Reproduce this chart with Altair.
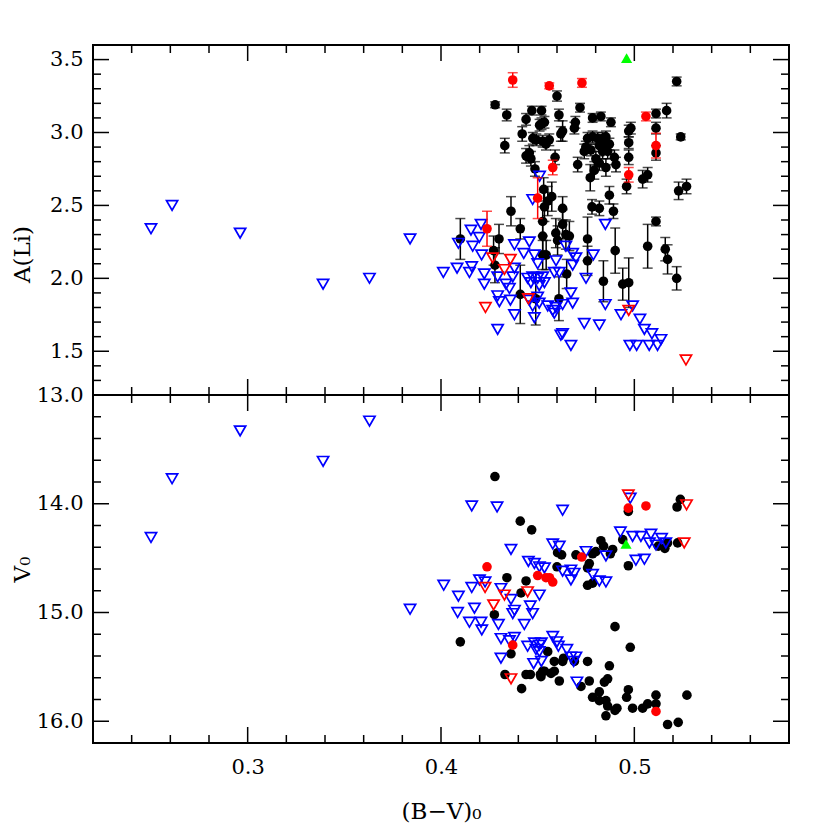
import altair as alt
import pandas as pd

# ---------------- data: top panel, A(Li) vs (B-V)0 ----------------
top_black_bv = [0.428, 0.460, 0.434, 0.444, 0.447, 0.452, 0.461, 0.452, 0.4535, 0.451,
                0.442, 0.4475, 0.4493, 0.4526, 0.456, 0.4543, 0.433, 0.462, 0.444, 0.4465,
                0.4457, 0.459, 0.4486, 0.4531, 0.4552, 0.4573, 0.4535, 0.4362, 0.410, 0.430,
                0.4272, 0.441, 0.4526, 0.4526, 0.4544, 0.4526, 0.4594, 0.4603, 0.4279, 0.441,
                0.449, 0.461, 0.5219, 0.4719, 0.4629, 0.4695, 0.469, 0.4784, 0.4827, 0.4879,
                0.4971, 0.4982, 0.4971, 0.4971, 0.5112, 0.5167, 0.5112, 0.5112, 0.524, 0.4758,
                0.4784, 0.481, 0.4836, 0.4853, 0.4749, 0.4775, 0.4819, 0.4845, 0.4871, 0.4836,
                0.4862, 0.4897, 0.4801, 0.4741, 0.4707, 0.4819, 0.4793, 0.4853, 0.4905, 0.4772,
                0.496, 0.5043, 0.5069, 0.5229, 0.527, 0.4871, 0.4781, 0.4819, 0.4892, 0.4629,
                0.4629, 0.4646, 0.4664, 0.4758, 0.4758, 0.4901, 0.484, 0.494, 0.4971, 0.5069,
                0.5112, 0.516, 0.5172, 0.5219, 0.465]
top_black_ali = [3.19, 3.25, 3.12, 3.09, 3.15, 3.15, 3.12, 3.06, 3.07, 3.05,
                 2.99, 2.96, 2.95, 2.94, 2.95, 2.92, 2.91, 2.99, 2.84, 2.82,
                 2.86, 2.83, 2.75, 2.61, 2.53, 2.56, 2.49, 2.46, 2.27, 2.27,
                 2.19, 2.34, 2.39, 2.29, 2.16, 2.16, 2.31, 2.26, 2.09, 1.89,
                 1.86, 1.86, 3.35, 3.17, 3.01, 3.07, 3.03, 3.10, 3.11, 3.07,
                 3.01, 3.03, 2.93, 2.83, 3.13, 3.15, 3.03, 2.86, 2.97, 2.96,
                 2.97, 2.96, 2.96, 2.97, 2.90, 2.88, 2.91, 2.91, 2.92, 2.87,
                 2.87, 2.83, 2.82, 2.87, 2.78, 2.79, 2.74, 2.76, 2.78, 2.69,
                 2.63, 2.68, 2.71, 2.60, 2.63, 2.57, 2.49, 2.48, 2.46, 2.48,
                 2.37, 2.30, 2.29, 2.27, 2.12, 2.19, 1.98, 1.96, 1.97, 2.22,
                 2.39, 2.20, 2.13, 2.00, 2.03]
top_black_err = [0.02, 0.035, 0.04, 0.04, 0.03, 0.03, 0.04, 0.04, 0.04, 0.04,
                 0.05, 0.04, 0.04, 0.04, 0.04, 0.04, 0.05, 0.05, 0.05, 0.05,
                 0.05, 0.05, 0.05, 0.08, 0.10, 0.10, 0.10, 0.10, 0.14, 0.10,
                 0.10, 0.07, 0.10, 0.10, 0.10, 0.10, 0.10, 0.10, 0.12, 0.20,
                 0.18, 0.15, 0.03, 0.03, 0.07, 0.04, 0.04, 0.03, 0.03, 0.03,
                 0.04, 0.04, 0.04, 0.05, 0.03, 0.05, 0.04, 0.05, 0.02, 0.04,
                 0.04, 0.04, 0.04, 0.04, 0.04, 0.04, 0.04, 0.04, 0.04, 0.05,
                 0.05, 0.05, 0.05, 0.05, 0.05, 0.05, 0.06, 0.06, 0.05, 0.09,
                 0.05, 0.06, 0.05, 0.06, 0.05, 0.06, 0.05, 0.05, 0.05, 0.08,
                 0.10, 0.10, 0.10, 0.15, 0.10, 0.155, 0.14, 0.11, 0.17, 0.15,
                 0.03, 0.08, 0.10, 0.08, 0.10]

top_red_bv = [0.4371, 0.456, 0.4729, 0.506, 0.5112, 0.4578, 0.4971, 0.450, 0.4238]
top_red_ali = [3.36, 3.32, 3.34, 3.11, 2.91, 2.76, 2.71, 2.55, 2.34]
top_red_err = [0.05, 0.02, 0.03, 0.03, 0.085, 0.05, 0.05, 0.14, 0.12]

top_blue_bv = [0.2609, 0.25, 0.2961, 0.339, 0.363, 0.384, 0.451, 0.4474, 0.4207, 0.4155,
               0.4198, 0.409, 0.4164, 0.421, 0.438, 0.4457, 0.4428, 0.4483, 0.45, 0.4012,
               0.4083, 0.4159, 0.4147, 0.4224, 0.4224, 0.4293, 0.4371, 0.438, 0.4336, 0.4354,
               0.4448, 0.4474, 0.45, 0.4526, 0.4465, 0.4508, 0.4535, 0.4586, 0.4612, 0.4595,
               0.4293, 0.4302, 0.4359, 0.4457, 0.45, 0.4474, 0.4508, 0.4552, 0.4578, 0.4586,
               0.438, 0.4483, 0.4293, 0.462, 0.485, 0.4646, 0.4681, 0.4698, 0.4681, 0.4788,
               0.475, 0.4672, 0.4681, 0.4629, 0.4594, 0.485, 0.4931, 0.4991, 0.4741, 0.4819,
               0.4629, 0.4672, 0.5029, 0.5052, 0.5091, 0.5138, 0.4977, 0.5012, 0.5077, 0.512]
top_blue_ali = [2.50, 2.34, 2.31, 1.96, 2.00, 2.27, 2.70, 2.54, 2.37, 2.33,
                2.28, 2.24, 2.22, 2.16, 2.23, 2.25, 2.17, 2.16, 2.10, 2.04,
                2.07, 2.08, 2.04, 2.03, 1.96, 2.01, 2.01, 2.07, 1.96, 1.93,
                2.00, 2.01, 2.00, 2.01, 1.97, 1.95, 1.97, 2.04, 2.04, 2.12,
                1.88, 1.84, 1.85, 1.85, 1.87, 1.81, 1.83, 1.81, 1.78, 1.76,
                1.75, 1.73, 1.65, 1.61, 2.37, 2.22, 2.17, 2.14, 2.09, 2.16,
                2.00, 1.90, 1.83, 1.82, 1.80, 1.82, 1.75, 1.81, 1.69, 1.68,
                1.62, 1.54, 1.72, 1.65, 1.62, 1.58, 1.54, 1.54, 1.54, 1.54]

top_redtri_bv = [0.4267, 0.4359, 0.4328, 0.4452, 0.423, 0.4971, 0.5267]
top_redtri_ali = [2.14, 2.13, 2.06, 1.86, 1.80, 1.78, 1.44]

top_green_bv = [0.496]
top_green_ali = [3.51]

# ---------------- data: bottom panel, V0 vs (B-V)0 ----------------
bot_black_bv = [0.4279, 0.441, 0.4469, 0.4341, 0.444, 0.410, 0.4276, 0.4362, 0.4331, 0.4417,
                0.444, 0.4462, 0.4514, 0.4535, 0.4414, 0.4969, 0.5238, 0.5221, 0.494, 0.5124,
                0.5158, 0.5172, 0.5224, 0.4827, 0.4841, 0.4801, 0.4784, 0.4888, 0.4876, 0.4698,
                0.4603, 0.4624, 0.4767, 0.4758, 0.4969, 0.460, 0.4758, 0.4784, 0.490, 0.4979,
                0.4552, 0.4586, 0.4629, 0.4634, 0.469, 0.4758, 0.4871, 0.4526, 0.4569, 0.4586,
                0.4612, 0.4517, 0.4724, 0.4767, 0.4819, 0.4784, 0.4819, 0.4853, 0.4862, 0.4845,
                0.4862, 0.491, 0.490, 0.4853, 0.4969, 0.496, 0.4991, 0.5043, 0.5069, 0.5112,
                0.5112, 0.5272, 0.5172, 0.5227]
bot_black_v = [13.75, 14.16, 14.24, 14.68, 14.71, 15.27, 15.02, 15.38, 15.57, 15.70,
               15.57, 15.57, 15.57, 15.54, 14.82, 14.07, 13.96, 14.03, 14.33, 14.39,
               14.41, 14.36, 14.36, 14.34, 14.39, 14.44, 14.46, 14.42, 14.46, 14.47,
               14.45, 14.47, 14.55, 14.59, 14.57, 14.58, 14.75, 14.73, 15.13, 15.32,
               15.36, 15.45, 15.45, 15.42, 15.45, 15.45, 15.49, 15.54, 15.56, 15.54,
               15.63, 15.59, 15.68, 15.63, 15.73, 15.78, 15.81, 15.81, 15.61, 15.64,
               15.86, 15.88, 15.90, 15.95, 15.71, 15.78, 15.88, 15.88, 15.84, 15.76,
               15.84, 15.76, 16.03, 16.01]

bot_blue_bv = [0.2961, 0.363, 0.339, 0.2609, 0.25, 0.384, 0.4159, 0.429, 0.4362, 0.4452,
               0.4483, 0.4509, 0.4535, 0.4014, 0.4159, 0.4199, 0.4228, 0.431, 0.409, 0.4086,
               0.4173, 0.4147, 0.4207, 0.4211, 0.4362, 0.438, 0.4371, 0.4297, 0.4431, 0.4462,
               0.4474, 0.4509, 0.431, 0.4354, 0.438, 0.431, 0.4448, 0.4483, 0.4509, 0.4491,
               0.4479, 0.4629, 0.4979, 0.4928, 0.4991, 0.5034, 0.5086, 0.5141, 0.5078, 0.5112,
               0.5163, 0.475, 0.4853, 0.4578, 0.4612, 0.5008, 0.5052, 0.4629, 0.4672, 0.4689,
               0.4672, 0.4784, 0.4819, 0.4853, 0.4578, 0.460, 0.4607, 0.4651, 0.4672, 0.4698,
               0.4686, 0.4519, 0.4509, 0.4519, 0.4703]
bot_blue_v = [13.33, 13.24, 13.61, 13.77, 14.31, 14.97, 14.02, 14.03, 14.42, 14.53,
              14.55, 14.58, 14.59, 14.75, 14.77, 14.70, 14.72, 14.78, 14.85, 15.00,
              14.96, 15.09, 15.09, 15.16, 14.88, 14.98, 15.01, 15.11, 15.11, 14.94,
              15.01, 14.84, 15.24, 15.26, 15.23, 15.42, 15.31, 15.28, 15.30, 15.34,
              15.47, 14.06, 13.95, 14.26, 14.30, 14.30, 14.28, 14.32, 14.36, 14.38,
              14.36, 14.44, 14.48, 14.37, 14.39, 14.52, 14.51, 14.62, 14.61, 14.64,
              14.70, 14.65, 14.71, 14.72, 15.22, 15.27, 15.31, 15.34, 15.41, 15.41,
              15.45, 15.28, 15.36, 15.45, 15.64]

bot_red_bv = [0.4238, 0.450, 0.4543, 0.4371, 0.4969, 0.506, 0.4728, 0.4561, 0.4578, 0.5112]
bot_red_v = [14.58, 14.66, 14.68, 15.30, 14.04, 14.02, 14.49, 14.68, 14.72, 15.91]

bot_redtri_bv = [0.4228, 0.4272, 0.4328, 0.4448, 0.4362, 0.4969, 0.527, 0.5258]
bot_redtri_v = [14.77, 14.93, 14.84, 14.81, 15.61, 13.92, 14.01, 14.36]

bot_green_bv = [0.4957]
bot_green_v = [14.37]

# ---------------- tick positions ----------------
x_major = [0.3, 0.4, 0.5]
x_minor = [0.24, 0.26, 0.28, 0.32, 0.34, 0.36, 0.38, 0.42, 0.44, 0.46, 0.48, 0.52, 0.54, 0.56]
top_y_major = [1.5, 2.0, 2.5, 3.0, 3.5]
top_y_minor = [1.3, 1.4, 1.6, 1.7, 1.8, 1.9, 2.1, 2.2, 2.3, 2.4, 2.6, 2.7, 2.8, 2.9,
               3.1, 3.2, 3.3, 3.4]
bot_y_major = [14.0, 15.0, 16.0]
bot_y_minor = [13.2, 13.4, 13.6, 13.8, 14.2, 14.4, 14.6, 14.8, 15.2, 15.4, 15.6, 15.8]

# ---------------- styling ----------------
W = 696
H_TOP = 350
H_BOT = 348
FONT = "DejaVu Serif"
BLACK, RED, BLUE, GREEN = "#000000", "#ff0000", "#0000ff", "#00ff00"
CIRC = 92
TRI = 125
MAJ, MIN = 16, 8

xscale = alt.Scale(domain=[0.22, 0.58], nice=False, zero=False)
top_yscale = alt.Scale(domain=[1.2, 3.6], nice=False, zero=False)
bot_yscale = alt.Scale(domain=[13.0, 16.2], nice=False, zero=False, reverse=True)

common_axis = dict(ticks=False, domain=False, grid=False, labelFont=FONT, labelFontSize=21,
                   labelColor="black", titleFont=FONT, titleFontSize=23, titleFontWeight="normal",
                   titleColor="black", labelOverlap=False)

bot_xaxis = alt.Axis(values=x_major, format=".1f", title="(B−V)₀", labelPadding=13,
                     titlePadding=23, **common_axis)
top_yaxis = alt.Axis(values=top_y_major, format=".1f", title="A(Li)", labelPadding=10,
                     minExtent=57, maxExtent=57, titlePadding=2, titleY=209, **common_axis)
bot_yaxis = alt.Axis(values=bot_y_major + [13.0], format=".1f", title="V₀", labelPadding=10,
                     minExtent=57, maxExtent=57, titlePadding=2, **common_axis)


def tick_layers(ysc, yaxis, xaxis, ymaj, ymin, H):
    out = []
    for vals, L in [(x_major, MAJ), (x_minor, MIN)]:
        base = alt.Chart(pd.DataFrame({"t": vals})).mark_rule(color=BLACK, strokeWidth=1.5)
        xe = alt.X("t:Q", scale=xscale, axis=xaxis)
        out.append(base.encode(x=xe, y=alt.value(0), y2=alt.value(L)))
        out.append(base.encode(x=xe, y=alt.value(H), y2=alt.value(H - L)))
    for vals, L in [(ymaj, MAJ), (ymin, MIN)]:
        base = alt.Chart(pd.DataFrame({"t": vals})).mark_rule(color=BLACK, strokeWidth=1.5)
        ye = alt.Y("t:Q", scale=ysc, axis=yaxis)
        out.append(base.encode(y=ye, x=alt.value(0), x2=alt.value(L)))
        out.append(base.encode(y=ye, x=alt.value(W), x2=alt.value(W - L)))
    return out


def err_layers(bv, val, err, color, ysc, yaxis, xaxis):
    df = pd.DataFrame({"bv": bv, "val": val, "err": err})
    df["lo"] = df["val"] - df["err"]
    df["hi"] = df["val"] + df["err"]
    xe = alt.X("bv:Q", scale=xscale, axis=xaxis)
    bars = alt.Chart(df).mark_rule(color=color, strokeWidth=1.5).encode(
        x=xe, y=alt.Y("lo:Q", scale=ysc, axis=yaxis), y2="hi:Q")
    cap_lo = alt.Chart(df).mark_tick(color=color, thickness=1.5, size=10, orient="horizontal").encode(
        x=xe, y=alt.Y("lo:Q", scale=ysc, axis=yaxis))
    cap_hi = alt.Chart(df).mark_tick(color=color, thickness=1.5, size=10, orient="horizontal").encode(
        x=xe, y=alt.Y("hi:Q", scale=ysc, axis=yaxis))
    return [bars, cap_lo, cap_hi]


def circles(bv, val, color, ysc, yaxis, xaxis):
    df = pd.DataFrame({"bv": bv, "val": val})
    return alt.Chart(df).mark_circle(size=CIRC, color=color, opacity=1).encode(
        x=alt.X("bv:Q", scale=xscale, axis=xaxis), y=alt.Y("val:Q", scale=ysc, axis=yaxis))


def tris(bv, val, color, ysc, yaxis, xaxis, shape="triangle-down", filled=False):
    df = pd.DataFrame({"bv": bv, "val": val})
    if filled:
        mk = alt.Chart(df).mark_point(shape=shape, filled=True, size=TRI, color=color, opacity=1)
    else:
        mk = alt.Chart(df).mark_point(shape=shape, filled=False, size=TRI, color=color,
                                      opacity=1, strokeWidth=1.7)
    return mk.encode(x=alt.X("bv:Q", scale=xscale, axis=xaxis),
                     y=alt.Y("val:Q", scale=ysc, axis=yaxis))


top_layers = (
    err_layers(top_black_bv, top_black_ali, top_black_err, BLACK, top_yscale, top_yaxis, None)
    + [circles(top_black_bv, top_black_ali, BLACK, top_yscale, top_yaxis, None)]
    + [tris(top_blue_bv, top_blue_ali, BLUE, top_yscale, top_yaxis, None)]
    + err_layers(top_red_bv, top_red_ali, top_red_err, RED, top_yscale, top_yaxis, None)
    + [circles(top_red_bv, top_red_ali, RED, top_yscale, top_yaxis, None)]
    + [tris(top_redtri_bv, top_redtri_ali, RED, top_yscale, top_yaxis, None)]
    + [tris(top_green_bv, top_green_ali, GREEN, top_yscale, top_yaxis, None,
            shape="triangle-up", filled=True)]
    + tick_layers(top_yscale, top_yaxis, None, top_y_major, top_y_minor, H_TOP)
)
top = alt.layer(*top_layers).properties(width=W, height=H_TOP)

bot_layers = (
    [circles(bot_black_bv, bot_black_v, BLACK, bot_yscale, bot_yaxis, bot_xaxis)]
    + [tris(bot_blue_bv, bot_blue_v, BLUE, bot_yscale, bot_yaxis, bot_xaxis)]
    + [circles(bot_red_bv, bot_red_v, RED, bot_yscale, bot_yaxis, bot_xaxis)]
    + [tris(bot_redtri_bv, bot_redtri_v, RED, bot_yscale, bot_yaxis, bot_xaxis)]
    + [tris(bot_green_bv, bot_green_v, GREEN, bot_yscale, bot_yaxis, bot_xaxis,
            shape="triangle-up", filled=True)]
    + tick_layers(bot_yscale, bot_yaxis, bot_xaxis, bot_y_major, bot_y_minor, H_BOT)
)
bottom = alt.layer(*bot_layers).properties(width=W, height=H_BOT)

chart = alt.vconcat(top, bottom, spacing=0, bounds="flush").properties(
    padding={"left": 2, "top": 35, "right": 10, "bottom": 5},
    background="white",
).configure_view(stroke="black", strokeWidth=2)

chart.save("out.html", embed_options={"renderer": "svg", "actions": False})
